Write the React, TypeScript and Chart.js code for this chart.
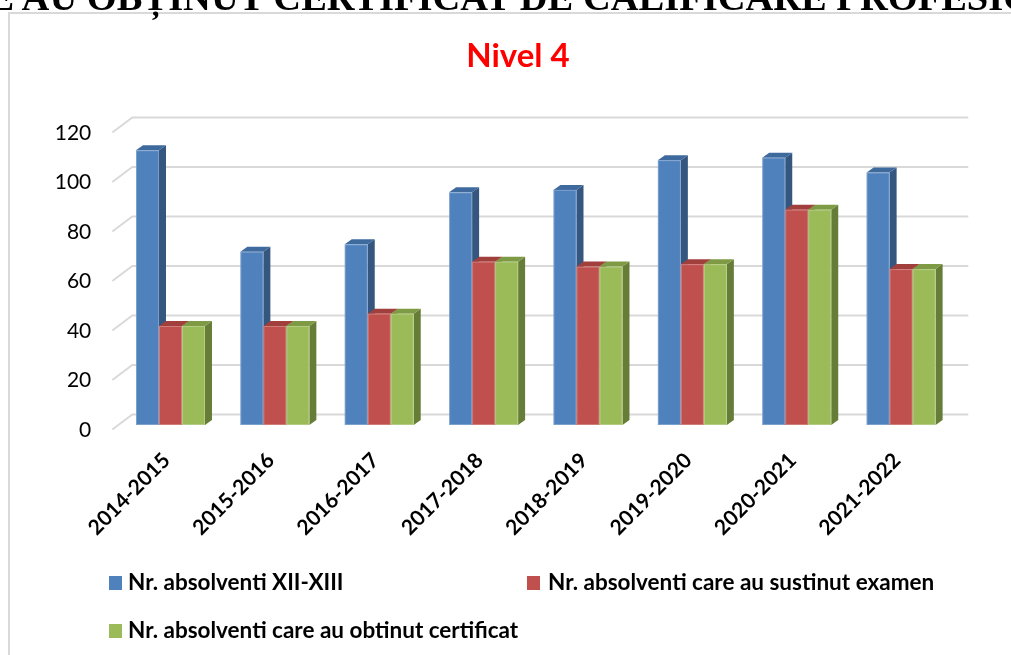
import React, { useEffect, useRef } from "react";
import { Chart, registerables } from "chart.js";

Chart.register(...registerables);

const categories = [
  "2014-2015",
  "2015-2016",
  "2016-2017",
  "2017-2018",
  "2018-2019",
  "2019-2020",
  "2020-2021",
  "2021-2022",
];
const graduates = [111, 70, 73, 94, 95, 107, 108, 102];
const examTakers = [40, 40, 45, 66, 64, 65, 87, 63];
const certified = [40, 40, 45, 66, 64, 65, 87, 63];
const seriesNames = [
  "Nr. absolventi XII-XIII",
  "Nr. absolventi care au sustinut examen",
  "Nr. absolventi care au obtinut certificat",
];
const yMin = 0;
const yMax = 120;
const yStep = 20;

const frontColors = ["#4F81BD", "#C0504D", "#9BBB59"];
const sideColors = ["#34567F", "#8E3836", "#667D37"];
const topColors = ["#3F6A9E", "#A13F3D", "#7F9A45"];

const DEPTH_X = 7;
const DEPTH_Y = -5;

const bars3d = {
  id: "bars3d",
  beforeDatasetsDraw(chart: any) {
    const ctx = chart.ctx;
    const { left, right } = chart.chartArea;
    const yScale = chart.scales.y;
    ctx.save();
    ctx.strokeStyle = "#D9D9D9";
    ctx.lineWidth = 2;
    yScale.ticks.forEach((t: any) => {
      const y = yScale.getPixelForValue(t.value);
      ctx.beginPath();
      ctx.moveTo(left - 6, y + 4.5);
      ctx.lineTo(left + 14, y - 10.5);
      ctx.lineTo(right + 15, y - 10.5);
      ctx.stroke();
    });
    chart.data.datasets.forEach((ds: any, di: number) => {
      const meta = chart.getDatasetMeta(di);
      meta.data.forEach((el: any) => {
        const { x, y, base, width } = el.getProps(["x", "y", "base", "width"], true);
        const l = x - width / 2;
        const r = x + width / 2;
        ctx.fillStyle = sideColors[di];
        ctx.beginPath();
        ctx.moveTo(r, y);
        ctx.lineTo(r + DEPTH_X, y + DEPTH_Y);
        ctx.lineTo(r + DEPTH_X, base + DEPTH_Y);
        ctx.lineTo(r, base);
        ctx.closePath();
        ctx.fill();
        ctx.fillStyle = topColors[di];
        ctx.beginPath();
        ctx.moveTo(l, y);
        ctx.lineTo(l + DEPTH_X, y + DEPTH_Y);
        ctx.lineTo(r + DEPTH_X, y + DEPTH_Y);
        ctx.lineTo(r, y);
        ctx.closePath();
        ctx.fill();
        ctx.fillStyle = frontColors[di];
        ctx.fillRect(l, y, width, base - y);
        ctx.strokeStyle = "rgba(255,255,255,0.25)";
        ctx.lineWidth = 1;
        ctx.strokeRect(l + 0.5, y + 0.5, width - 1, base - y - 1);
      });
    });
    ctx.restore();
    return false;
  },
};

export default function App() {
  const canvasRef = useRef<HTMLCanvasElement | null>(null);

  useEffect(() => {
    if (!canvasRef.current) return;
    const chart = new Chart(canvasRef.current, {
      type: "bar",
      data: {
        labels: categories,
        datasets: [
          { label: seriesNames[0], data: graduates, backgroundColor: frontColors[0] },
          { label: seriesNames[1], data: examTakers, backgroundColor: frontColors[1] },
          { label: seriesNames[2], data: certified, backgroundColor: frontColors[2] },
        ],
      },
      options: {
        responsive: false,
        animation: false,
        devicePixelRatio: 1,
        datasets: {
          bar: { categoryPercentage: 0.661, barPercentage: 1 },
        },
        layout: { padding: { top: 128, left: 0, right: 57.7, bottom: 100 } },
        plugins: {
          legend: { display: false },
          title: { display: false },
          tooltip: { enabled: false },
        },
        scales: {
          x: {
            grid: { display: false, drawTicks: false },
            border: { display: false },
            ticks: {
              autoSkip: false,
              maxRotation: 45,
              minRotation: 45,
              padding: 23,
              labelOffset: -4,
              color: "#000",
              font: { family: "Lato", size: 21, weight: "bold" },
            },
            afterFit: (s: any) => {
              s.height = 130;
            },
          },
          y: {
            min: yMin,
            max: yMax,
            grid: { display: false, drawTicks: false },
            border: { display: false },
            ticks: {
              stepSize: yStep,
              padding: 27,
              labelOffset: 5,
              color: "#000",
              font: { family: "Lato", size: 21 },
            },
            afterFit: (s: any) => {
              s.width = 118.3;
            },
          },
        },
      },
      plugins: [bars3d],
    });
    return () => chart.destroy();
  }, []);

  const legendText: React.CSSProperties = {
    position: "absolute",
    fontFamily: "Lato, sans-serif",
    fontWeight: "bold",
    fontSize: 22.5,
    lineHeight: "22.5px",
    whiteSpace: "nowrap",
    color: "#000",
  };
  const box = (c: string): React.CSSProperties => ({
    position: "absolute",
    width: 13,
    height: 14,
    background: c,
  });

  return (
    <div
      style={{
        position: "fixed",
        left: 0,
        top: 0,
        width: 1011,
        height: 655,
        overflow: "hidden",
        background: "#fff",
      }}
    >
      <div
        style={{
          position: "absolute",
          left: 8,
          top: 12,
          width: 1100,
          height: 700,
          border: "2px solid #D9D9D9",
        }}
      />
      <canvas
        ref={canvasRef}
        width={1011}
        height={655}
        style={{ position: "absolute", left: 0, top: 0 }}
      />
      <div
        style={{
          position: "absolute",
          left: -95,
          top: -22,
          fontFamily: "'Liberation Serif', 'Times New Roman', serif",
          fontWeight: "bold",
          fontSize: 38.5,
          lineHeight: "38.5px",
          whiteSpace: "nowrap",
          color: "#000",
        }}
      >
        CARE AU OBȚINUT CERTIFICAT DE CALIFICARE PROFESIONALĂ
      </div>
      <div
        style={{
          position: "absolute",
          left: 0,
          width: 1036,
          top: 37.6,
          textAlign: "center",
          fontFamily: "Lato, sans-serif",
          fontWeight: "bold",
          fontSize: 33,
          lineHeight: "33px",
          color: "#FF0000",
        }}
      >
        Nivel 4
      </div>
      <div style={{ ...box(frontColors[0]), left: 109, top: 576 }} />
      <div style={{ ...legendText, left: 128, top: 571 }}>{seriesNames[0]}</div>
      <div style={{ ...box(frontColors[1]), left: 527, top: 576 }} />
      <div style={{ ...legendText, left: 548, top: 571 }}>{seriesNames[1]}</div>
      <div style={{ ...box(frontColors[2]), left: 109, top: 624 }} />
      <div style={{ ...legendText, left: 128, top: 619 }}>{seriesNames[2]}</div>
    </div>
  );
}
